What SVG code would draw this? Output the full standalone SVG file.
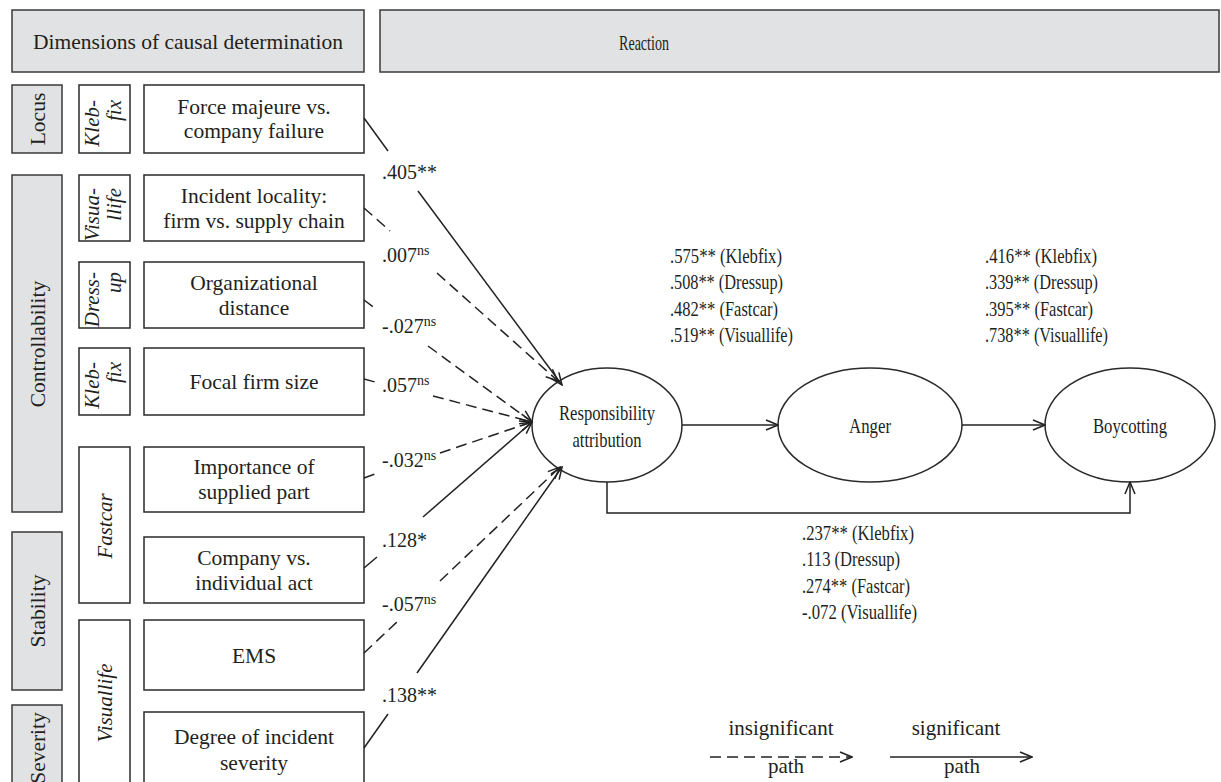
<svg xmlns="http://www.w3.org/2000/svg" width="1221" height="782" viewBox="0 0 1221 782">
<style>
.hd{fill:#e1e2e4;stroke:#3a3a3a;stroke-width:1.5}
.bx{fill:#fff;stroke:#2a2a2a;stroke-width:1.5}
.el{fill:#fff;stroke:#2a2a2a;stroke-width:1.5}
text{font-family:"Liberation Serif","Times New Roman",serif;fill:#231f20}
.t{font-size:21.5px;text-anchor:middle}
.it{font-size:21px;font-style:italic}
.r{font-size:21px}
.lb{font-size:20px}
.sup{font-size:14px}
.ln{fill:none;stroke:#222;stroke-width:1.5}
.ds{fill:none;stroke:#222;stroke-width:1.5;stroke-dasharray:11 6}
</style>
<defs>
<marker id="arr" viewBox="0 0 14 12" refX="13" refY="6" markerWidth="14" markerHeight="12" markerUnits="userSpaceOnUse" orient="auto">
<path d="M1,1 L13,6 L1,11" fill="none" stroke="#222" stroke-width="1.5" stroke-dasharray="none"/>
</marker>
</defs>
<rect width="1221" height="782" fill="#fff"/>

<g id="header-dimensions"><rect class="hd" x="12" y="10" width="352" height="62"/><text class="t" x="188" y="49">Dimensions of causal determination</text></g>
<g id="header-reaction"><rect class="hd" x="380" y="10" width="839" height="62"/><text class="r" x="619" y="50" textLength="50" lengthAdjust="spacingAndGlyphs">Reaction</text></g>

<g id="dim-locus"><rect class="hd" x="12" y="85" width="50" height="68"/><text class="t" transform="translate(45,119) rotate(-90)">Locus</text></g>
<g id="dim-controllability"><rect class="hd" x="12" y="175" width="50" height="337"/><text class="t" transform="translate(45,344) rotate(-90)">Controllability</text></g>
<g id="dim-stability"><rect class="hd" x="12" y="532" width="50" height="158"/><text class="t" transform="translate(45,611) rotate(-90)">Stability</text></g>
<g id="dim-severity"><rect class="hd" x="12" y="705" width="50" height="90"/><text class="t" transform="translate(45,748) rotate(-90)">Severity</text></g>

<g id="case-klebfix1"><rect class="bx" x="79" y="85" width="51" height="68"/><text class="it" text-anchor="end" transform="translate(99,100) rotate(-90)">Kleb-<tspan x="0" y="22">fix</tspan></text></g>
<g id="case-visuallife1"><rect class="bx" x="79" y="175" width="51" height="66"/><text class="it" text-anchor="end" transform="translate(99,188) rotate(-90)">Visua-<tspan x="0" y="22">llife</tspan></text></g>
<g id="case-dressup"><rect class="bx" x="79" y="262" width="51" height="66"/><text class="it" text-anchor="end" transform="translate(99,272) rotate(-90)">Dress-<tspan x="0" y="22">up</tspan></text></g>
<g id="case-klebfix2"><rect class="bx" x="79" y="348" width="51" height="67"/><text class="it" text-anchor="end" transform="translate(99,362) rotate(-90)">Kleb-<tspan x="0" y="22">fix</tspan></text></g>
<g id="case-fastcar"><rect class="bx" x="79" y="447" width="51" height="156"/><text class="it" text-anchor="middle" transform="translate(112,526) rotate(-90)">Fastcar</text></g>
<g id="case-visuallife2"><rect class="bx" x="79" y="620" width="51" height="175"/><text class="it" text-anchor="middle" transform="translate(112,703) rotate(-90)">Visuallife</text></g>

<g id="item-force"><rect class="bx" x="144" y="85" width="220" height="68"/><text class="t" x="254" y="114">Force majeure vs.<tspan x="254" dy="24">company failure</tspan></text></g>
<g id="item-locality"><rect class="bx" x="144" y="175" width="220" height="66"/><text class="t" x="254" y="203">Incident locality:<tspan x="254" dy="25">firm vs. supply chain</tspan></text></g>
<g id="item-orgdist"><rect class="bx" x="144" y="262" width="220" height="66"/><text class="t" x="254" y="290">Organizational<tspan x="254" dy="25">distance</tspan></text></g>
<g id="item-firmsize"><rect class="bx" x="144" y="348" width="220" height="67"/><text class="t" x="254" y="389">Focal firm size</text></g>
<g id="item-importance"><rect class="bx" x="144" y="447" width="220" height="65"/><text class="t" x="254" y="474">Importance of<tspan x="254" dy="25">supplied part</tspan></text></g>
<g id="item-company"><rect class="bx" x="144" y="537" width="220" height="66"/><text class="t" x="254" y="565">Company vs.<tspan x="254" dy="25">individual act</tspan></text></g>
<g id="item-ems"><rect class="bx" x="144" y="620" width="220" height="70"/><text class="t" x="254" y="663">EMS</text></g>
<g id="item-degree"><rect class="bx" x="144" y="712" width="220" height="80"/><text class="t" x="254" y="744">Degree of incident<tspan x="254" dy="26">severity</tspan></text></g>

<g id="node-responsibility"><ellipse class="el" cx="607" cy="425" rx="75" ry="57"/><text class="r" text-anchor="middle" x="607" y="420" textLength="96" lengthAdjust="spacingAndGlyphs">Responsibility</text><text class="r" text-anchor="middle" x="607" y="447" textLength="69" lengthAdjust="spacingAndGlyphs">attribution</text></g>
<g id="node-anger"><ellipse class="el" cx="870" cy="425" rx="92" ry="57"/><text class="r" text-anchor="middle" x="870" y="433" textLength="42" lengthAdjust="spacingAndGlyphs">Anger</text></g>
<g id="node-boycotting"><ellipse class="el" cx="1130" cy="425" rx="85" ry="57"/><text class="r" text-anchor="middle" x="1130" y="433" textLength="74" lengthAdjust="spacingAndGlyphs">Boycotting</text></g>

<g id="connectors">
<path class="ln" d="M364,118 L388,151"/><path class="ln" d="M418,191 L562,385" marker-end="url(#arr)"/>
<path class="ds" d="M364,208 L390,231"/><path class="ds" d="M437,273 L558,381" marker-end="url(#arr)"/>
<path class="ds" d="M364,300 L376,309"/><path class="ds" d="M428,346 L532,422" marker-end="url(#arr)"/>
<path class="ds" d="M364,379 L375,382"/><path class="ds" d="M433,396 L532,422" marker-end="url(#arr)"/>
<path class="ds" d="M364,478 L375,474"/><path class="ds" d="M440,453 L532,422" marker-end="url(#arr)"/>
<path class="ln" d="M364,568 L377,557"/><path class="ln" d="M423,517 L532,422" marker-end="url(#arr)"/>
<path class="ds" d="M364,653 L398,621"/><path class="ds" d="M440,581 L560,467" marker-end="url(#arr)"/>
<path class="ln" d="M364,748 L388,714"/><path class="ln" d="M417,673 L562,467" marker-end="url(#arr)"/>
<path class="ln" d="M682,425 L778,425" marker-end="url(#arr)"/>
<path class="ln" d="M962,425 L1045,425" marker-end="url(#arr)"/>
<path class="ln" d="M607,482 L607,513 L1130,513 L1130,482" marker-end="url(#arr)"/>
<path class="ds" d="M710,757 L852,757" marker-end="url(#arr)"/>
<path class="ln" d="M890,757 L1032,757" marker-end="url(#arr)"/>
</g>

<g id="labels">
<text class="lb" x="382" y="179">.405**</text>
<text class="lb" x="382" y="262">.007<tspan class="sup" dy="-7">ns</tspan></text>
<text class="lb" x="382" y="333">-.027<tspan class="sup" dy="-7">ns</tspan></text>
<text class="lb" x="382" y="392">.057<tspan class="sup" dy="-7">ns</tspan></text>
<text class="lb" x="382" y="467">-.032<tspan class="sup" dy="-7">ns</tspan></text>
<text class="lb" x="382" y="547">.128*</text>
<text class="lb" x="382" y="611">-.057<tspan class="sup" dy="-7">ns</tspan></text>
<text class="lb" x="382" y="702">.138**</text>

<text class="r" x="670" y="263" textLength="112" lengthAdjust="spacingAndGlyphs">.575** (Klebfix)</text>
<text class="r" x="670" y="289" textLength="113" lengthAdjust="spacingAndGlyphs">.508** (Dressup)</text>
<text class="r" x="670" y="316" textLength="108" lengthAdjust="spacingAndGlyphs">.482** (Fastcar)</text>
<text class="r" x="670" y="342" textLength="123" lengthAdjust="spacingAndGlyphs">.519** (Visuallife)</text>

<text class="r" x="985" y="263" textLength="112" lengthAdjust="spacingAndGlyphs">.416** (Klebfix)</text>
<text class="r" x="985" y="289" textLength="113" lengthAdjust="spacingAndGlyphs">.339** (Dressup)</text>
<text class="r" x="985" y="316" textLength="108" lengthAdjust="spacingAndGlyphs">.395** (Fastcar)</text>
<text class="r" x="985" y="342" textLength="123" lengthAdjust="spacingAndGlyphs">.738** (Visuallife)</text>

<text class="r" x="802" y="540" textLength="112" lengthAdjust="spacingAndGlyphs">.237** (Klebfix)</text>
<text class="r" x="802" y="566" textLength="98" lengthAdjust="spacingAndGlyphs">.113 (Dressup)</text>
<text class="r" x="802" y="593" textLength="108" lengthAdjust="spacingAndGlyphs">.274** (Fastcar)</text>
<text class="r" x="802" y="619" textLength="115" lengthAdjust="spacingAndGlyphs">-.072 (Visuallife)</text>

<text class="r" x="781" y="735" text-anchor="middle">insignificant</text>
<text class="r" x="786" y="773" text-anchor="middle">path</text>
<text class="r" x="956" y="735" text-anchor="middle">significant</text>
<text class="r" x="962" y="773" text-anchor="middle">path</text>
</g>
</svg>
